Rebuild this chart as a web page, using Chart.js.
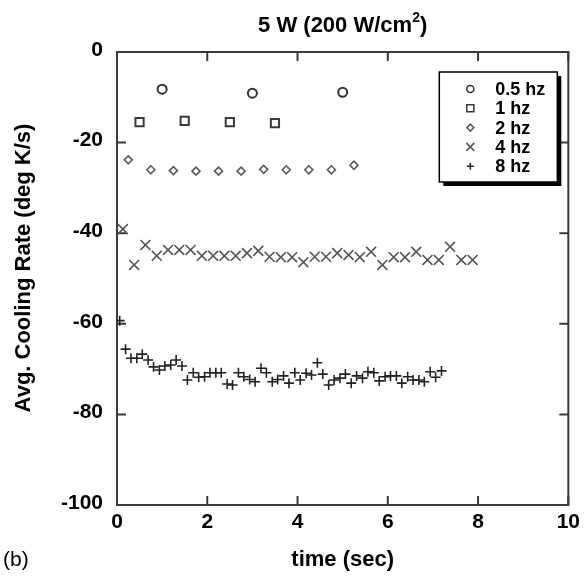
<!DOCTYPE html>
<html>
<head>
<meta charset="utf-8">
<script src="https://cdn.jsdelivr.net/npm/chart.js@4.4.1/dist/chart.umd.min.js"></script>
<style>
  body { margin: 0; background: #fff; }
  canvas { display: block; }
</style>
</head>
<body>
<canvas id="coolChart" width="585" height="588"></canvas>
<script>
// time (sec) and avg. cooling rate (deg K/s)
const t05 = [1, 3, 5];
const rate05 = [-8.2, -9.1, -8.9];

const t1 = [0.5, 1.5, 2.5, 3.5];
const rate1 = [-15.5, -15.2, -15.5, -15.7];

const t2 = [0.25, 0.75, 1.25, 1.75, 2.25, 2.75, 3.25, 3.75, 4.25, 4.75, 5.25];
const rate2 = [-23.8, -26.0, -26.2, -26.3, -26.3, -26.3, -25.9, -26.0, -26.0, -26.0, -25.0];

const t4 = [0.13, 0.38, 0.63, 0.88, 1.13, 1.38, 1.63, 1.88, 2.13, 2.38, 2.63, 2.88,
            3.13, 3.38, 3.63, 3.88, 4.13, 4.38, 4.63, 4.88, 5.13, 5.38, 5.63, 5.88,
            6.13, 6.38, 6.63, 6.88, 7.13, 7.38, 7.63, 7.88];
const rate4 = [-39.1, -47.0, -42.6, -45.0, -43.7, -43.7, -43.7, -45.0, -45.0, -45.0, -45.0, -44.4,
               -43.9, -45.2, -45.3, -45.3, -46.4, -45.2, -45.2, -44.4, -44.8, -45.3, -44.1, -47.0,
               -45.3, -45.3, -44.1, -45.9, -45.9, -43.0, -45.9, -45.9];

const t8 = [0.06, 0.19, 0.31, 0.44, 0.56, 0.69, 0.81, 0.94, 1.06, 1.19, 1.31, 1.44,
            1.56, 1.69, 1.81, 1.94, 2.06, 2.19, 2.31, 2.44, 2.56, 2.69, 2.81, 2.94,
            3.06, 3.19, 3.31, 3.44, 3.56, 3.69, 3.81, 3.94, 4.06, 4.19, 4.31, 4.44,
            4.56, 4.69, 4.81, 4.94, 5.06, 5.19, 5.31, 5.44, 5.56, 5.69, 5.81, 5.94,
            6.06, 6.19, 6.31, 6.44, 6.56, 6.69, 6.81, 6.94, 7.06, 7.19];
const rate8 = [-59.3, -65.6, -67.6, -67.6, -66.7, -68.0, -69.5, -70.2, -69.3, -69.1, -68.0, -69.3,
               -72.4, -70.8, -71.8, -71.7, -70.8, -70.8, -70.8, -73.3, -73.5, -70.8, -71.7, -72.3,
               -72.8, -69.8, -70.8, -72.8, -72.3, -71.5, -73.1, -70.8, -72.4, -70.9, -71.3, -68.6,
               -71.1, -73.5, -72.4, -72.0, -71.1, -73.1, -71.5, -72.0, -70.6, -70.8, -72.6, -71.7,
               -71.5, -71.5, -73.1, -71.7, -72.4, -72.4, -72.8, -70.6, -71.8, -70.4];

const seriesLabels = ['0.5 hz', '1 hz', '2 hz', '4 hz', '8 hz'];
const xTicks = [0, 2, 4, 6, 8, 10];
const yTicks = [0, -20, -40, -60, -80, -100];

const FONT = '"Liberation Sans", Arial, Helvetica, sans-serif';

function toPoints(xs, ys) {
    return xs.map((x, i) => ({ x: x, y: ys[i] }));
}

// hand-drawn legend marker (same shapes as the datasets)
function drawMarker(ctx, style, x, y, r) {
    ctx.beginPath();
    if (style === 'circle') {
        ctx.arc(x, y, r, 0, Math.PI * 2);
    } else if (style === 'rect') {
        ctx.rect(x - r, y - r, 2 * r, 2 * r);
    } else if (style === 'rectRot') {
        ctx.moveTo(x, y - r); ctx.lineTo(x + r, y); ctx.lineTo(x, y + r); ctx.lineTo(x - r, y); ctx.closePath();
    } else if (style === 'crossRot') {
        ctx.moveTo(x - r, y - r); ctx.lineTo(x + r, y + r);
        ctx.moveTo(x + r, y - r); ctx.lineTo(x - r, y + r);
    } else {
        ctx.moveTo(x - r, y); ctx.lineTo(x + r, y);
        ctx.moveTo(x, y - r); ctx.lineTo(x, y + r);
    }
    ctx.stroke();
}

const framePlugin = {
    id: 'frame',
    beforeDatasetsDraw(chart) {
        const { ctx, chartArea: a, scales } = chart;
        ctx.save();
        ctx.strokeStyle = '#3a3a3a';
        ctx.lineWidth = 2;
        ctx.strokeRect(a.left, a.top, a.right - a.left, a.bottom - a.top);
        const len = 9;
        ctx.beginPath();
        scales.x.ticks.forEach(t => {
            const px = scales.x.getPixelForValue(t.value);
            ctx.moveTo(px, a.bottom); ctx.lineTo(px, a.bottom - len);
            ctx.moveTo(px, a.top); ctx.lineTo(px, a.top + len);
        });
        scales.y.ticks.forEach(t => {
            const py = scales.y.getPixelForValue(t.value);
            ctx.moveTo(a.left, py); ctx.lineTo(a.left + len, py);
            ctx.moveTo(a.right, py); ctx.lineTo(a.right - len, py);
        });
        ctx.stroke();
        ctx.restore();
    }
};

const textPlugin = {
    id: 'texts',
    afterDraw(chart) {
        const { ctx, chartArea: a } = chart;
        const cx = (a.left + a.right) / 2;
        ctx.save();
        ctx.fillStyle = '#000';
        ctx.textBaseline = 'alphabetic';

        // title with superscript
        const big = 'bold 22px ' + FONT;
        const sup = 'bold 14px ' + FONT;
        const p1 = '5 W (200 W/cm', p2 = '2', p3 = ')';
        ctx.font = big; const w1 = ctx.measureText(p1).width, w3 = ctx.measureText(p3).width;
        ctx.font = sup; const w2 = ctx.measureText(p2).width;
        let x = cx - (w1 + w2 + w3) / 2;
        ctx.textAlign = 'left';
        ctx.font = big; ctx.fillText(p1, x, 32); x += w1;
        ctx.font = sup; ctx.fillText(p2, x, 22); x += w2;
        ctx.font = big; ctx.fillText(p3, x, 32);

        // axis titles
        ctx.font = 'bold 22px ' + FONT;
        ctx.textAlign = 'center';
        ctx.fillText('time (sec)', cx, 566);
        ctx.save();
        ctx.translate(30, 268);
        ctx.rotate(-Math.PI / 2);
        ctx.fillText('Avg. Cooling Rate (deg K/s)', 0, 0);
        ctx.restore();

        ctx.font = '21px ' + FONT;
        ctx.textAlign = 'left';
        ctx.fillText('(b)', 3, 566);

        // legend box with drop shadow
        const bx = a.right - 129, by = a.top + 20, bw = 118, bh = 110;
        ctx.fillStyle = '#000';
        ctx.fillRect(bx + 4, by + 4, bw, bh);
        ctx.fillStyle = '#fff';
        ctx.fillRect(bx, by, bw, bh);
        ctx.strokeStyle = '#000';
        ctx.lineWidth = 1.5;
        ctx.strokeRect(bx, by, bw, bh);

        ctx.font = 'bold 18px ' + FONT;
        ctx.textBaseline = 'middle';
        chart.data.datasets.forEach((ds, i) => {
            const yy = by + 17 + i * 19.3;
            ctx.strokeStyle = ds.pointBorderColor;
            ctx.lineWidth = 1.5;
            const r = ds.pointStyle === 'crossRot' ? 4 : 3.5;
            drawMarker(ctx, ds.pointStyle, bx + 31, yy, r);
            ctx.fillStyle = '#000';
            ctx.fillText(ds.label, bx + 56, yy + 1);
        });
        ctx.restore();
    }
};

const ctx = document.getElementById('coolChart').getContext('2d');
new Chart(ctx, {
    type: 'scatter',
    data: {
        datasets: [{
            label: seriesLabels[0],
            data: toPoints(t05, rate05),
            pointStyle: 'circle',
            pointRadius: 4.5,
            pointBorderWidth: 2,
            pointBorderColor: '#333',
            pointBackgroundColor: 'rgba(0,0,0,0)'
        }, {
            label: seriesLabels[1],
            data: toPoints(t1, rate1),
            pointStyle: 'rect',
            pointRadius: 5.8,
            pointBorderWidth: 2,
            pointBorderColor: '#3a3a3a',
            pointBackgroundColor: 'rgba(0,0,0,0)'
        }, {
            label: seriesLabels[2],
            data: toPoints(t2, rate2),
            pointStyle: 'rectRot',
            pointRadius: 4,
            pointBorderWidth: 1.6,
            pointBorderColor: '#5a5a5a',
            pointBackgroundColor: 'rgba(0,0,0,0)'
        }, {
            label: seriesLabels[3],
            data: toPoints(t4, rate4),
            pointStyle: 'crossRot',
            pointRadius: 7,
            pointBorderWidth: 1.6,
            pointBorderColor: '#555',
            pointBackgroundColor: 'rgba(0,0,0,0)'
        }, {
            label: seriesLabels[4],
            data: toPoints(t8, rate8),
            pointStyle: 'cross',
            pointRadius: 5,
            pointBorderWidth: 1.6,
            pointBorderColor: '#222',
            pointBackgroundColor: 'rgba(0,0,0,0)'
        }]
    },
    options: {
        responsive: false,
        animation: false,
        layout: { padding: { left: 0, top: 52, right: 14, bottom: 0 } },
        plugins: {
            legend: { display: false },
            title: { display: false },
            tooltip: { enabled: false }
        },
        scales: {
            x: {
                type: 'linear',
                min: 0,
                max: 10,
                afterFit: s => { s.height = 83; },
                afterBuildTicks: s => { s.ticks = xTicks.map(v => ({ value: v })); },
                grid: { display: false, drawTicks: false },
                border: { display: false },
                ticks: {
                    padding: 5,
                    color: '#000',
                    font: { family: FONT, size: 21, weight: 'bold' }
                }
            },
            y: {
                type: 'linear',
                min: -100,
                max: 0,
                afterFit: s => { s.width = 117; },
                afterBuildTicks: s => { s.ticks = yTicks.map(v => ({ value: v })); },
                grid: { display: false, drawTicks: false },
                border: { display: false },
                ticks: {
                    padding: 14,
                    labelOffset: -2,
                    color: '#000',
                    font: { family: FONT, size: 21, weight: 'bold' }
                }
            }
        }
    },
    plugins: [framePlugin, textPlugin]
});
</script>
</body>
</html>
